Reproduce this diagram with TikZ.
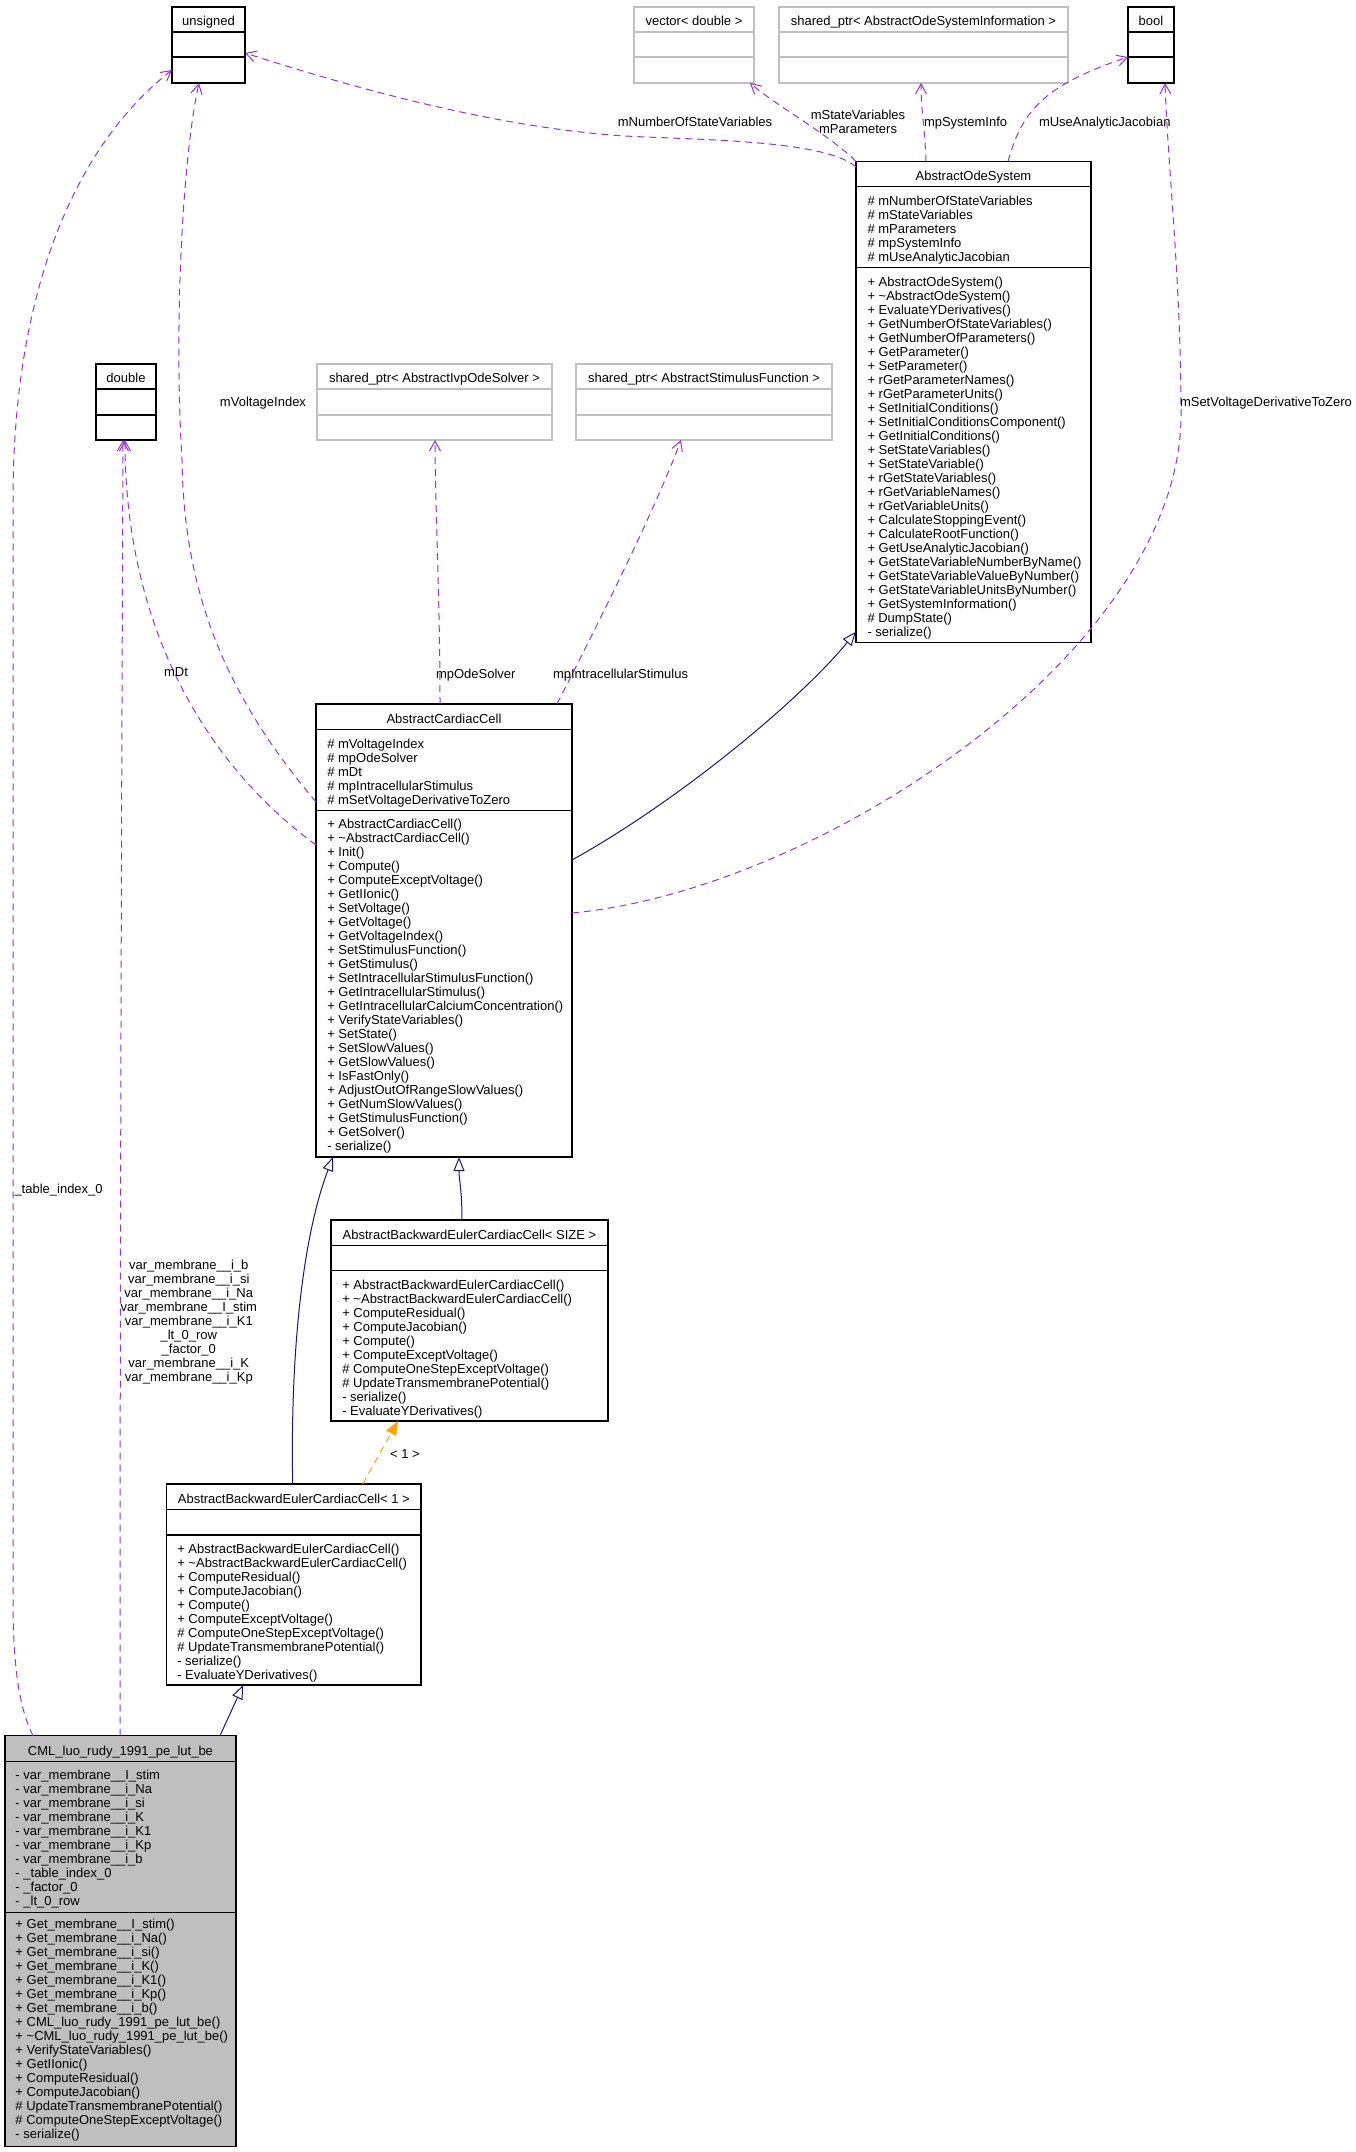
\documentclass[tikz,border=0pt]{standalone}
\usepackage{fontspec}
\setmainfont{Liberation Sans}
\usetikzlibrary{arrows.meta,calc}
\definecolor{edgepurple}{HTML}{9A32CD}
\definecolor{gennavy}{HTML}{191970}
\definecolor{tmplorange}{HTML}{FFA500}
\definecolor{boxgrey}{HTML}{BFBFBF}
\tikzset{
  box/.style={draw=black, line width=1.1pt, inner sep=0pt, outer sep=0pt},
  greybox/.style={draw=boxgrey, line width=1.1pt, inner sep=0pt, outer sep=0pt},
  txt/.style={inner sep=0pt, outer sep=0pt},
  uses/.style={draw=edgepurple, line width=1pt, dash pattern=on 7pt off 5pt,
    -{Straight Barb[length=10pt,width=11pt,line width=1pt]}},
  inherit/.style={draw=gennavy, line width=1pt,
    -{Triangle[length=14pt,width=11pt,fill=white,line width=1pt]}},
  tmpl/.style={draw=tmplorange, line width=1pt, dash pattern=on 7pt off 5pt,
    -{Triangle[length=14pt,width=11pt]}}
}
% name, x1, y1, x2, y2, divider1, divider2, style, title
\newcommand{\umlbox}[9]{%
  \node[#8, anchor=north west, minimum width={#4-#2}, minimum height={#5-#3}] (#1) at (#2,#3) {};
  \draw[#8] (#2,#6) -- (#4,#6) (#2,#7) -- (#4,#7);
  \node[txt, anchor=base] (#1-title) at ({(#2+#4)/2},{#6-6.3}) {#9};}
% name prefix, x, first baseline, list of lines
\newcommand{\umltext}[4]{%
  \foreach \itm [count=\k] in {#4} {\node[txt, anchor=base west] (#1-\k) at (#2,{#3+14*(\k-1)}) {\itm};}}
\begin{document}
\begin{tikzpicture}[x=1pt,y=-1pt,font=\fontsize{13}{14}\selectfont]
\fill[white] (0,0) rectangle (1356,2152);
\useasboundingbox (0,0) rectangle (1356,2152);

% ---------- classes ----------
\umlbox{uns}{172}{7}{245}{83}{32}{57}{box}{unsigned}
\umlbox{vec}{634}{7}{754}{83}{32}{57}{greybox}{vector< double >}
\umlbox{osi}{779}{7}{1068}{83}{32}{57}{greybox}{shared\_ptr< AbstractOdeSystemInformation >}
\umlbox{bool}{1128}{7}{1174}{83}{32}{57}{box}{bool}
\umlbox{aos}{856}{161.5}{1091}{642.7}{186.5}{267.7}{box}{AbstractOdeSystem}
\umlbox{dbl}{96}{364}{156}{440}{389}{415}{box}{double}
\umlbox{ivp}{317}{364}{552}{440}{389}{415}{greybox}{shared\_ptr< AbstractIvpOdeSolver >}
\umlbox{stim}{576}{364}{832}{440}{389}{415}{greybox}{shared\_ptr< AbstractStimulusFunction >}
\umlbox{acc}{316}{704}{572}{1157}{729.3}{810.7}{box}{AbstractCardiacCell}
\umlbox{size}{331}{1220}{608}{1421}{1245.7}{1270.7}{box}{AbstractBackwardEulerCardiacCell< SIZE >}
\umlbox{one}{166.7}{1484}{421}{1685}{1509.3}{1535}{box}{AbstractBackwardEulerCardiacCell< 1 >}
\umlbox{cml}{5}{1735.7}{236}{2146.7}{1761.7}{1912.3}{box,fill=boxgrey}{CML\_luo\_rudy\_1991\_pe\_lut\_be}

% ---------- members ----------
\umltext{aos-a}{867.5}{205.3}{\# mNumberOfStateVariables, \# mStateVariables, \# mParameters, \# mpSystemInfo, \# mUseAnalyticJacobian}
\umltext{aos-m}{867.5}{286.6}{+ AbstractOdeSystem(), + \textasciitilde AbstractOdeSystem(), + EvaluateYDerivatives(), + GetNumberOfStateVariables(), + GetNumberOfParameters(), + GetParameter(), + SetParameter(), + rGetParameterNames(), + rGetParameterUnits(), + SetInitialConditions(), + SetInitialConditionsComponent(), + GetInitialConditions(), + SetStateVariables(), + SetStateVariable(), + rGetStateVariables(), + rGetVariableNames(), + rGetVariableUnits(), + CalculateStoppingEvent(), + CalculateRootFunction(), + GetUseAnalyticJacobian(), + GetStateVariableNumberByName(), + GetStateVariableValueByNumber(), + GetStateVariableUnitsByNumber(), + GetSystemInformation(), \# DumpState(), - serialize()}
\umltext{acc-a}{327.3}{748}{\# mVoltageIndex, \# mpOdeSolver, \# mDt, \# mpIntracellularStimulus, \# mSetVoltageDerivativeToZero}
\umltext{acc-m}{327.3}{828.6}{+ AbstractCardiacCell(), + \textasciitilde AbstractCardiacCell(), + Init(), + Compute(), + ComputeExceptVoltage(), + GetIIonic(), + SetVoltage(), + GetVoltage(), + GetVoltageIndex(), + SetStimulusFunction(), + GetStimulus(), + SetIntracellularStimulusFunction(), + GetIntracellularStimulus(), + GetIntracellularCalciumConcentration(), + VerifyStateVariables(), + SetState(), + SetSlowValues(), + GetSlowValues(), + IsFastOnly(), + AdjustOutOfRangeSlowValues(), + GetNumSlowValues(), + GetStimulusFunction(), + GetSolver(), - serialize()}
\umltext{size-m}{342.3}{1289.3}{+ AbstractBackwardEulerCardiacCell(), + \textasciitilde AbstractBackwardEulerCardiacCell(), + ComputeResidual(), + ComputeJacobian(), + Compute(), + ComputeExceptVoltage(), \# ComputeOneStepExceptVoltage(), \# UpdateTransmembranePotential(), - serialize(), - EvaluateYDerivatives()}
\umltext{one-m}{177.3}{1553.6}{+ AbstractBackwardEulerCardiacCell(), + \textasciitilde AbstractBackwardEulerCardiacCell(), + ComputeResidual(), + ComputeJacobian(), + Compute(), + ComputeExceptVoltage(), \# ComputeOneStepExceptVoltage(), \# UpdateTransmembranePotential(), - serialize(), - EvaluateYDerivatives()}
\umltext{cml-a}{15.5}{1779}{- var\_membrane\_\_I\_stim, - var\_membrane\_\_i\_Na, - var\_membrane\_\_i\_si, - var\_membrane\_\_i\_K, - var\_membrane\_\_i\_K1, - var\_membrane\_\_i\_Kp, - var\_membrane\_\_i\_b, - \_table\_index\_0, - \_factor\_0, - \_lt\_0\_row}
\umltext{cml-m}{15.5}{1928.6}{+ Get\_membrane\_\_I\_stim(), + Get\_membrane\_\_i\_Na(), + Get\_membrane\_\_i\_si(), + Get\_membrane\_\_i\_K(), + Get\_membrane\_\_i\_K1(), + Get\_membrane\_\_i\_Kp(), + Get\_membrane\_\_i\_b(), + CML\_luo\_rudy\_1991\_pe\_lut\_be(), + \textasciitilde CML\_luo\_rudy\_1991\_pe\_lut\_be(), + VerifyStateVariables(), + GetIIonic(), + ComputeResidual(), + ComputeJacobian(), \# UpdateTransmembranePotential(), \# ComputeOneStepExceptVoltage(), - serialize()}

% ---------- connectors ----------
% AbstractOdeSystem uses
\draw[uses] ($(aos.north west)+(0,5.5)$) .. controls (826,140) and (700,140) .. (625,136) .. controls (500,128) and (360,90) .. ($(uns.north east)+(0,46)$);
\draw[uses] (aos.north west) .. controls (830,135) and (775,105) .. ($(vec.south east)+(-4,0)$);
\draw[uses] ($(aos.north west)+(70,0)$) .. controls (925,130) and (921,110) .. ($(osi.south west)+(142,0)$);
\draw[uses] ($(aos.north west)+(152,0)$) .. controls (1022,110) and (1045,85) .. ($(bool.north west)+(0,50)$);
% AbstractCardiacCell uses
\draw[uses] ($(acc.north east)+(0,209)$) .. controls (820,890) and (1181,650) .. (1181,415) .. controls (1181,280) and (1168,170) .. ($(bool.south west)+(37,0)$);
\draw[uses] ($(acc.north west)+(0,98)$) .. controls (230,700) and (184,600) .. (182,460) .. controls (174,330) and (182,160) .. ($(uns.south west)+(27,0)$);
\draw[uses] ($(acc.north west)+(0,141)$) .. controls (200,760) and (125,620) .. ($(dbl.south west)+(29,0)$);
\draw[uses] ($(acc.north west)+(124,0)$) .. controls (440,600) and (435,500) .. ($(ivp.south west)+(118,0)$);
\draw[uses] ($(acc.north west)+(241,0)$) .. controls (600,620) and (655,510) .. ($(stim.south west)+(105,0)$);
% CML uses
\draw[uses] ($(cml.north west)+(28,0)$) .. controls (20,1710) and (13,1670) .. (13,1600) -- (13,500) .. controls (13,300) and (70,150) .. ($(uns.north west)+(0,63)$);
\draw[uses] ($(cml.north west)+(115,0)$) .. controls (120,1200) and (122,700) .. ($(dbl.south west)+(27,0)$);
% inheritance
\draw[inherit] ($(acc.north east)+(0,156)$) .. controls (680,800) and (800,700) .. ($(aos.south west)+(0,-11)$);
\draw[inherit] ($(size.north west)+(131,0)$) .. controls (462,1190) and (459,1180) .. ($(acc.south west)+(143,0)$);
\draw[inherit] ($(one.north west)+(126,0)$) .. controls (290,1340) and (305,1230) .. ($(acc.south west)+(17,0)$);
\draw[inherit] ($(cml.north west)+(215,0)$) -- ($(one.south west)+(76.5,0)$);
% template instance
\draw[tmpl] ($(one.north west)+(196,0)$) -- ($(size.south west)+(67,0)$);

% ---------- connector labels ----------
\node[txt, anchor=base] (l-nsv) at (695,126.6) {mNumberOfStateVariables};
\node[txt, anchor=base] (l-sv1) at (858,119.3) {mStateVariables};
\node[txt, anchor=base] (l-sv2) at (858,133.3) {mParameters};
\node[txt, anchor=base west] (l-si) at (924,126.6) {mpSystemInfo};
\node[txt, anchor=base west] (l-uaj) at (1039,126.6) {mUseAnalyticJacobian};
\node[txt, anchor=base west] (l-svd) at (1180,406.3) {mSetVoltageDerivativeToZero};
\node[txt, anchor=base east] (l-vi) at (306,406.3) {mVoltageIndex};
\node[txt, anchor=base] (l-dt) at (176,676.6) {mDt};
\node[txt, anchor=base west] (l-ode) at (436,678.6) {mpOdeSolver};
\node[txt, anchor=base west] (l-is) at (553,678.6) {mpIntracellularStimulus};
\node[txt, anchor=base west] (l-ti) at (14.5,1193.6) {\_table\_index\_0};
\foreach \itm [count=\k] in {var\_membrane\_\_i\_b, var\_membrane\_\_i\_si, var\_membrane\_\_i\_Na, var\_membrane\_\_I\_stim, var\_membrane\_\_i\_K1, \_lt\_0\_row, \_factor\_0, var\_membrane\_\_i\_K, var\_membrane\_\_i\_Kp}
  {\node[txt, anchor=base] (l-var-\k) at (188.8,{1269.3+14*(\k-1)}) {\itm};}
\node[txt, anchor=base] (l-one) at (405,1458) {< 1 >};
\end{tikzpicture}
\end{document}
